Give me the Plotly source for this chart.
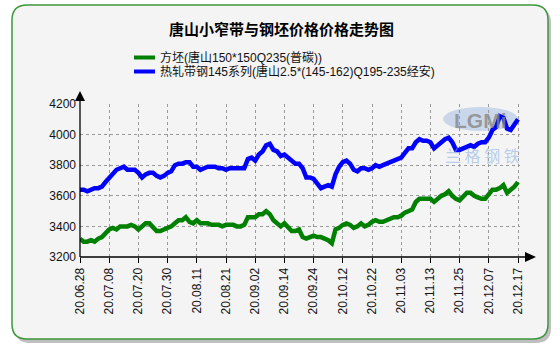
import pandas as pd
import plotly.graph_objects as go

# Trading days: weekdays plus weekend make-up days, minus the National Day holiday
makeup_days = ["2020-06-28", "2020-09-27", "2020-10-10"]
holidays = ["2020-10-01", "2020-10-02", "2020-10-05", "2020-10-06",
            "2020-10-07", "2020-10-08"]
days = pd.bdate_range("2020-06-28", "2020-12-17")
days = days.union(pd.to_datetime(makeup_days)).difference(pd.to_datetime(holidays))
dates = [d.strftime("%y.%m.%d") for d in days]

# 方坯 (billet) prices, 元/吨
billet = [
    3320, 3300, 3300, 3310, 3300, 3320, 3330, 3360, 3380, 3390,
    3380, 3400, 3400, 3400, 3410, 3400, 3380, 3400, 3420, 3420,
    3390, 3370, 3370, 3380, 3390, 3400, 3420, 3440, 3440, 3460,
    3430, 3420, 3440, 3420, 3420, 3420, 3410, 3410, 3410, 3400,
    3410, 3410, 3410, 3400, 3400, 3410, 3460, 3460, 3460, 3480,
    3480, 3500, 3480, 3440, 3420, 3400, 3420, 3390, 3370, 3370,
    3380, 3330, 3320, 3330, 3340, 3330, 3330, 3320, 3310, 3290,
    3380, 3390, 3410, 3420, 3410, 3390, 3400, 3420, 3400, 3410,
    3430, 3440, 3430, 3430, 3440, 3450, 3460, 3460, 3470, 3490,
    3500, 3510, 3560, 3580, 3580, 3580, 3580, 3560, 3580, 3600,
    3610, 3630, 3600, 3580, 3570, 3600, 3620, 3620, 3600, 3590,
    3580, 3580, 3610, 3640, 3640, 3650, 3670, 3620, 3640, 3660,
    3690,
]

# 热轧带钢 145 系列 prices, 元/吨
strip = [
    3640, 3640, 3630, 3640, 3650, 3650, 3660, 3690, 3720, 3750,
    3770, 3780, 3790, 3770, 3770, 3770, 3750, 3720, 3740, 3750,
    3750, 3730, 3720, 3730, 3750, 3760, 3800, 3810, 3810, 3820,
    3820, 3790, 3790, 3770, 3780, 3790, 3790, 3790, 3780, 3780,
    3770, 3780, 3780, 3780, 3780, 3780, 3840, 3850, 3830, 3870,
    3890, 3930, 3940, 3900, 3890, 3860, 3870, 3850, 3830, 3810,
    3810, 3780, 3720, 3720, 3710, 3680, 3650, 3660, 3670, 3660,
    3740, 3790, 3820, 3830, 3810, 3770, 3760, 3780, 3780, 3770,
    3780, 3800, 3790, 3800, 3810, 3820, 3830, 3840, 3850, 3880,
    3910, 3910, 3950, 3970, 3960, 3960, 3950, 3910, 3930, 3950,
    3970, 3980, 3950, 3900, 3900, 3910, 3920, 3930, 3920, 3940,
    3950, 3950, 3980, 4030, 4050, 4120, 4110, 4040, 4030, 4060,
    4100,
]

y_ticks = [3200, 3400, 3600, 3800, 4000, 4200]
tick_step = 8
x_ticks = dates[::tick_step]

series_names = ["方坯(唐山150*150Q235(普碳))",
                "热轧带钢145系列(唐山2.5*(145-162)Q195-235经安)"]
series_colors = ["#008000", "#0000ff"]

W, H = 560, 348
L, R, T, B = 80, 40, 104, 91   # plot-area margins in pixels


def px(x):
    return (x - L) / (W - L - R)


def py(y):
    return (H - B - y) / (H - T - B)


def rounded_rect(x0, y0, x1, y1, r):
    return (f"M{px(x0 + r)},{py(y0)} L{px(x1 - r)},{py(y0)} "
            f"Q{px(x1)},{py(y0)} {px(x1)},{py(y0 + r)} "
            f"L{px(x1)},{py(y1 - r)} Q{px(x1)},{py(y1)} {px(x1 - r)},{py(y1)} "
            f"L{px(x0 + r)},{py(y1)} Q{px(x0)},{py(y1)} {px(x0)},{py(y1 - r)} "
            f"L{px(x0)},{py(y0 + r)} Q{px(x0)},{py(y0)} {px(x0 + r)},{py(y0)} Z")


fig = go.Figure()
for name, vals, col in zip(series_names, [billet, strip], series_colors):
    fig.add_trace(go.Scatter(x=dates, y=vals, mode="lines", name=name,
                             line=dict(color=col, width=4.5), showlegend=False))

n = len(dates) - 1
font_txt = "Liberation Sans, Arial, Noto Sans CJK SC"

shapes = [
    # drop shadow and panel
    dict(type="path", xref="paper", yref="paper", layer="below",
         path=rounded_rect(15, 8, 551, 343, 15),
         fillcolor="rgba(0,0,0,0.25)", line=dict(width=0)),
    dict(type="path", xref="paper", yref="paper", layer="below",
         path=rounded_rect(12, 5, 548, 339, 15),
         fillcolor="#f4f4f4", line=dict(color="#3c963c", width=1.5)),
    # axis lines with arrow heads
    dict(type="line", xref="paper", yref="paper", x0=px(80), y0=py(257),
         x1=px(526), y1=py(257), line=dict(color="#000", width=1.3)),
    dict(type="line", xref="paper", yref="paper", x0=px(80), y0=py(257),
         x1=px(80), y1=py(100), line=dict(color="#000", width=1.3)),
    dict(type="path", xref="paper", yref="paper",
         path=f"M{px(536)},{py(257)} L{px(525)},{py(252)} L{px(525)},{py(262)} Z",
         fillcolor="#000", line=dict(width=0)),
    dict(type="path", xref="paper", yref="paper",
         path=f"M{px(80)},{py(91)} L{px(75)},{py(101)} L{px(85)},{py(101)} Z",
         fillcolor="#000", line=dict(width=0)),
    # watermark ellipse
    dict(type="circle", xref="paper", yref="paper", layer="below",
         x0=px(443), x1=px(518), y0=py(107), y1=py(131),
         fillcolor="rgba(150,180,225,0.45)", line=dict(width=0)),
]

annotations = [
    dict(text="<b>唐山小窄带与钢坯价格价格走势图</b>", xref="paper", yref="paper",
         x=px(281), y=py(28), showarrow=False, xanchor="center", yanchor="middle",
         font=dict(family="Noto Sans CJK SC", size=15, color="#000")),
    dict(text="<b>LGMi</b>", xref="paper", yref="paper", x=px(480), y=py(120),
         showarrow=False, xanchor="center", yanchor="middle",
         font=dict(family="Liberation Sans", size=21, color="rgba(135,135,135,0.8)")),
    dict(text="兰 格 钢 铁", xref="paper", yref="paper", x=px(482), y=py(155),
         showarrow=False, xanchor="center", yanchor="middle",
         font=dict(family="Noto Sans CJK SC", size=16, color="rgba(150,180,225,0.65)")),
]

# legend: line sample + label for each series
for k, (name, col) in enumerate(zip(series_names, series_colors)):
    yy = 57.5 + 14 * k
    shapes.append(dict(type="line", xref="paper", yref="paper",
                       x0=px(134), x1=px(155), y0=py(yy), y1=py(yy),
                       line=dict(color=col, width=4)))
    annotations.append(dict(text=name, xref="paper", yref="paper",
                            x=px(158), y=py(yy), showarrow=False,
                            xanchor="left", yanchor="middle",
                            font=dict(family=font_txt, size=12, color="#111")))

fig.update_layout(
    width=W, height=H,
    margin=dict(l=L, r=R, t=T, b=B, pad=0),
    paper_bgcolor="#ffffff",
    plot_bgcolor="rgba(0,0,0,0)",
    shapes=shapes,
    annotations=annotations,
    showlegend=False,
    xaxis=dict(
        type="category", categoryorder="array", categoryarray=dates,
        range=[0, n * 440 / 438], tickmode="array",
        tickvals=x_ticks, ticktext=x_ticks, tickangle=-90,
        ticks="outside", ticklen=5, tickcolor="#000", tickwidth=1,
        showgrid=True, gridcolor="#9a9a9a", gridwidth=1, griddash="dot",
        showline=False, zeroline=False,
        tickfont=dict(family=font_txt, size=12, color="#111"),
    ),
    yaxis=dict(
        range=[3200, 4200], tickmode="array", tickvals=y_ticks,
        ticks="", showgrid=True, gridcolor="#9a9a9a", gridwidth=1,
        griddash="dot", showline=False, zeroline=False,
        ticklabelstandoff=3,
        tickfont=dict(family=font_txt, size=12, color="#111"),
    ),
)

fig.write_html("out.html")
